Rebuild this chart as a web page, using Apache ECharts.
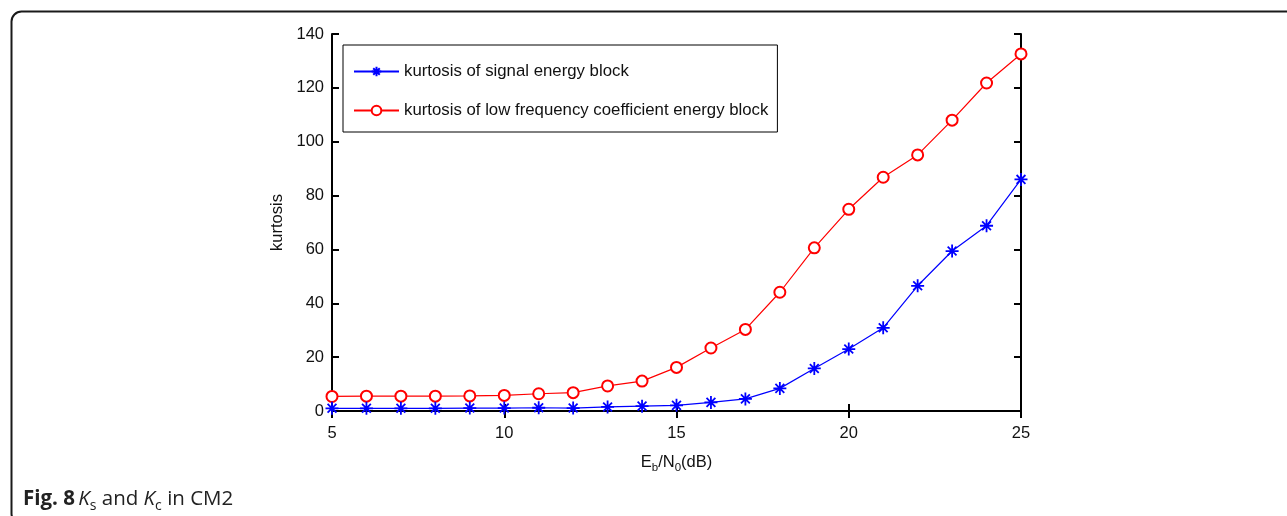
<!DOCTYPE html>
<html>
<head>
<meta charset="utf-8">
<script src="https://cdn.jsdelivr.net/npm/echarts@6/dist/echarts.min.js"></script>
<style>
html,body{margin:0;padding:0;background:#fff;}
#chart{width:1287px;height:516px;}
</style>
</head>
<body>
<div id="chart"></div>
<script>
// ---- data ----
const ebn0 = [5,6,7,8,9,10,11,12,13,14,15,16,17,18,19,20,21,22,23,24,25];
const kurtSignal = [1.0,1.0,1.0,1.0,1.1,1.1,1.2,1.1,1.5,1.8,2.1,3.2,4.5,8.4,15.8,23.0,30.9,46.5,59.4,68.8,86.0];
const kurtLowFreq = [5.4,5.5,5.5,5.5,5.6,5.8,6.4,6.8,9.3,11.1,16.2,23.4,30.3,44.1,60.6,74.9,86.8,95.1,108.0,121.8,132.6];
const seriesNames = ['kurtosis of signal energy block','kurtosis of low frequency coefficient energy block'];
const xTicks = {min:5, max:25, interval:5};
const yTicks = {min:0, max:140, interval:20};

const asterisk = 'path://M5 0L5 10M0 5L10 5M1.6 1.6L8.4 8.4M8.4 1.6L1.6 8.4';
const FONT = '"Liberation Sans", Arial, sans-serif';
const CAP = '"Open Sans", sans-serif';

const chart = echarts.init(document.getElementById('chart'), null, {renderer:'canvas'});

const axisCommon = {
  axisLine:{show:true, lineStyle:{color:'#000', width:2}},
  axisTick:{show:true, inside:true, length:7, lineStyle:{color:'#000', width:2}},
  splitLine:{show:false}
};

chart.setOption({
  animation:false,
  backgroundColor:'#fff',
  grid:{left:332, right:266, top:34, bottom:105},
  legend:{
    orient:'vertical', left:343, top:45,
    padding:[18,9,13,10], itemGap:22, itemWidth:45, itemHeight:12,
    borderColor:'#000', borderWidth:1, backgroundColor:'#fff',
    textStyle:{fontFamily:FONT, fontSize:16.8, color:'#111'},
    data:seriesNames
  },
  xAxis:[
    Object.assign({type:'value', position:'bottom', min:xTicks.min, max:xTicks.max, interval:xTicks.interval,
      axisLabel:{color:'#111', fontFamily:FONT, fontSize:16.5, margin:14},
      name:'{n|E}{s|b}{n|/N}{s|0}{n|(dB)}', nameLocation:'middle', nameGap:43,
      nameTextStyle:{rich:{
        n:{fontFamily:FONT, fontSize:16.5, color:'#111', verticalAlign:'top', lineHeight:20},
        s:{fontFamily:FONT, fontSize:11.5, color:'#111', verticalAlign:'bottom', padding:[10,0,0,0], lineHeight:20}
      }}
    }, axisCommon),
    Object.assign({type:'value', position:'top', min:xTicks.min, max:xTicks.max, interval:xTicks.interval,
      axisLabel:{show:false}}, axisCommon)
  ],
  yAxis:[
    Object.assign({type:'value', position:'left', min:yTicks.min, max:yTicks.max, interval:yTicks.interval,
      axisLabel:{color:'#111', fontFamily:FONT, fontSize:16.5, margin:8},
      name:'kurtosis', nameLocation:'middle', nameGap:44, nameRotate:90,
      nameTextStyle:{fontFamily:FONT, fontSize:16.5, color:'#111'}
    }, axisCommon),
    Object.assign({type:'value', position:'right', min:yTicks.min, max:yTicks.max, interval:yTicks.interval,
      axisLabel:{show:false}}, axisCommon)
  ],
  series:[
    {
      name:seriesNames[0], type:'line', xAxisIndex:0, yAxisIndex:0,
      data:ebn0.map((x,i)=>[x,kurtSignal[i]]),
      symbol:asterisk, symbolSize:13,
      lineStyle:{color:'#0000ff', width:1.2},
      itemStyle:{color:'#0000ff', borderColor:'#0000ff', borderWidth:1.8},
      z:3
    },
    {
      name:seriesNames[1], type:'line', xAxisIndex:0, yAxisIndex:0,
      data:ebn0.map((x,i)=>[x,kurtLowFreq[i]]),
      symbol:'emptyCircle', symbolSize:11,
      lineStyle:{color:'#ff0000', width:1.2},
      itemStyle:{color:'#ff0000', borderColor:'#ff0000', borderWidth:1.3},
      z:2
    }
  ],
  graphic:[
    {type:'rect', left:9, top:9, shape:{x:0,y:0,width:1400,height:512,r:10},
      style:{fill:null, stroke:'#1a1a1a', lineWidth:2}, silent:true, z:-1},
    {type:'text', left:23, top:489,
      style:{
        text:'{b|Fig. 8} {i|K}{sub|s}{t| and }{i|K}{sub|c}{t| in CM2}',
        rich:{
          b:{fontFamily:CAP, fontSize:20.5, fontWeight:'bold', fill:'#222', verticalAlign:'top', lineHeight:24},
          t:{fontFamily:CAP, fontSize:20.5, fill:'#222', verticalAlign:'top', lineHeight:24},
          i:{fontFamily:CAP, fontSize:20.5, fontStyle:'italic', fill:'#222', verticalAlign:'top', lineHeight:24},
          sub:{fontFamily:CAP, fontSize:14, fill:'#222', verticalAlign:'bottom', padding:[9,0,0,0], lineHeight:24}
        }
      }}
  ]
});
</script>
</body>
</html>
